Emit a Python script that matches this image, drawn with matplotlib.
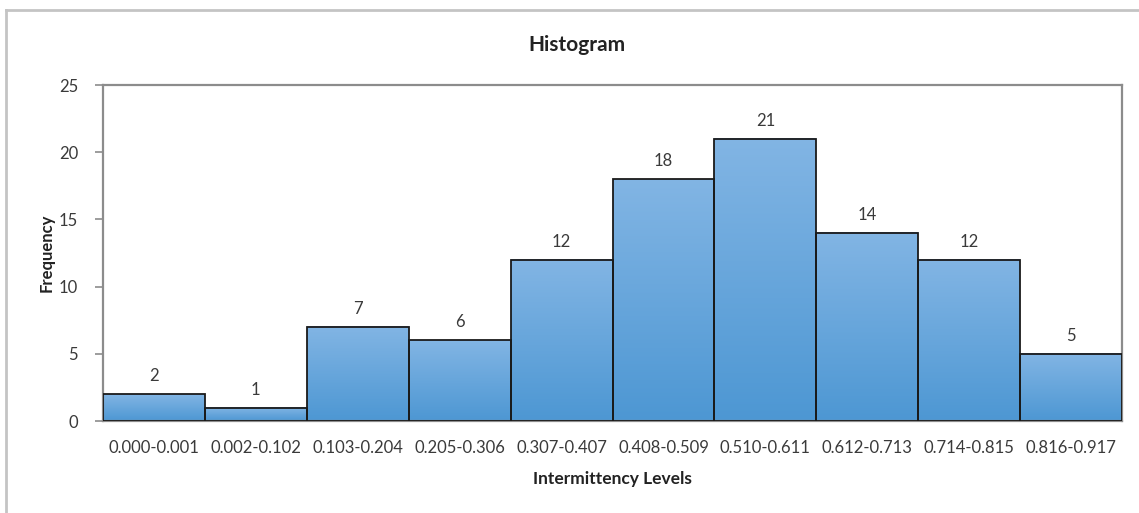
import matplotlib
matplotlib.use("Agg")
import matplotlib.pyplot as plt
import numpy as np
from matplotlib.colors import LinearSegmentedColormap
from matplotlib.lines import Line2D

plt.rcParams['font.family'] = ['Lato', 'DejaVu Sans']

bins = ["0.000-0.001", "0.002-0.102", "0.103-0.204", "0.205-0.306", "0.307-0.407",
        "0.408-0.509", "0.510-0.611", "0.612-0.713", "0.714-0.815", "0.816-0.917"]
counts = [2, 1, 7, 6, 12, 18, 21, 14, 12, 5]
y_ticks = [0, 5, 10, 15, 20, 25]

W, H = 1139, 513
fig = plt.figure(figsize=(W / 100, H / 100), dpi=100)
ax = fig.add_axes([103 / W, 1 - 421 / H, (1122 - 103) / W, (421 - 85) / H])

# outer chart frame (top and left edges)
frame_col = "#c4c4c4"
fig.add_artist(Line2D([6 / W, 1.0], [1 - 10 / H, 1 - 10 / H], color=frame_col, lw=2,
                      transform=fig.transFigure))
fig.add_artist(Line2D([6 / W, 6 / W], [0.0, 1 - 10 / H], color=frame_col, lw=2,
                      transform=fig.transFigure))

cmap = LinearSegmentedColormap.from_list("barfill", ["#4d97d3", "#82b5e4"])
grad = np.linspace(0, 1, 256).reshape(-1, 1)

x = np.arange(len(counts))
for xi, c in zip(x, counts):
    ax.imshow(grad, extent=[xi - 0.5, xi + 0.5, 0, c], origin="lower", cmap=cmap,
              aspect="auto", zorder=2, interpolation="bilinear")
bars = ax.bar(x, counts, width=1.0, fill=False, edgecolor="#1a1a1a", linewidth=1.3, zorder=3)

txt_col = "#3a3a3a"
for xi, c in zip(x, counts):
    ax.annotate(str(c), (xi, c), xytext=(0, 13), textcoords="offset points",
                ha="center", va="center", fontsize=12, color=txt_col)

ax.set_xlim(-0.5, len(counts) - 0.5)
ax.set_ylim(0, 25)
ax.set_yticks(y_ticks)
ax.set_xticks(x)
ax.set_xticklabels(bins)
ax.tick_params(axis="x", length=0, pad=14, labelsize=12, labelcolor=txt_col)
ax.tick_params(axis="y", length=6, width=1.2, color="#8c8c8c", pad=12, labelsize=12,
               labelcolor=txt_col)
for s in ax.spines.values():
    s.set_color("#8c8c8c")
    s.set_linewidth(1.6)

fig.text(577 / W, 1 - 45 / H, "Histogram", ha="center", va="center",
         fontsize=15, fontweight="bold", color="#222222")
fig.text(612 / W, 1 - 479 / H, "Intermittency Levels", ha="center", va="center",
         fontsize=12.5, fontweight="bold", color="#222222")
fig.text(47 / W, 1 - 253 / H, "Frequency", ha="center", va="center", rotation=90,
         fontsize=12, fontweight="bold", color="#222222")

fig.savefig("out.png", dpi=100, facecolor="white")
